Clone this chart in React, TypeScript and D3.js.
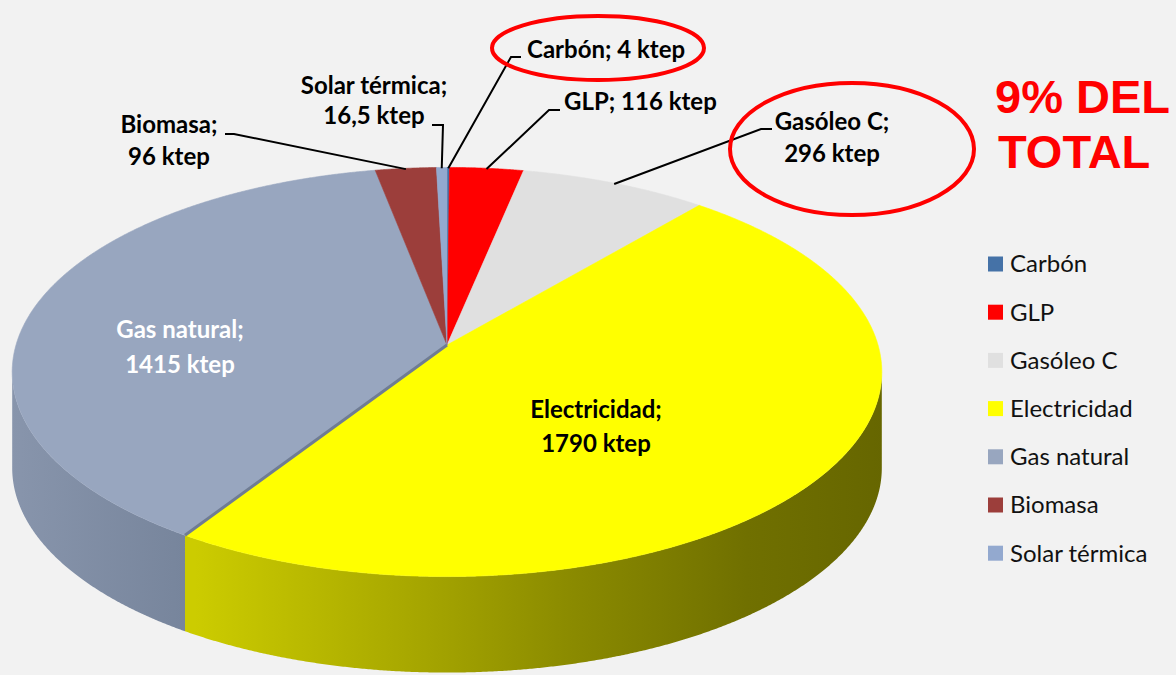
import React, { useEffect, useRef } from 'react';
import * as d3 from 'd3';

const categories = ['Carbón', 'GLP', 'Gasóleo C', 'Electricidad', 'Gas natural', 'Biomasa', 'Solar térmica'];
const values = [4, 116, 296, 1790, 1415, 96, 16.5];
const valueTexts = ['4', '116', '296', '1790', '1415', '96', '16,5'];
const colors = ['#4572a7', '#ff0000', '#e0e0e0', '#ffff00', '#98a6bf', '#9c3e3b', '#93a9cf'];
const sideColors = ['#355a88', '#c00000', '#b4b4b4', 'url(#sideElec)', 'url(#sideGas)', '#7a2e2c', '#7488aa'];

interface Slice {
	name: string;
	value: number;
	text: string;
	color: string;
	side: string;
}

const data: Slice[] = categories.map((name, i) => ({
	name,
	value: values[i],
	text: valueTexts[i],
	color: colors[i],
	side: sideColors[i],
}));

const W = 1176;
const H = 675;

// proyección en perspectiva de la cara superior
const cx = 447;
const cy = 345;
const A = 431;
const B = 201;
const k = 0.132;
const depth = 96;

const proj = (a: number, r = 1): [number, number] => {
	const w = 1 + k * r * Math.cos(a);
	return [cx + (A * r * Math.sin(a)) / w, cy - (B * r * Math.cos(a)) / w];
};

const App: React.FC = () => {
	const svgRef = useRef<SVGSVGElement | null>(null);

	useEffect(() => {
		if (!svgRef.current) return;
		const svg = d3.select(svgRef.current);
		svg.selectAll('*').remove();

		svg.append('rect').attr('width', W).attr('height', H).attr('fill', '#f2f2f2');

		const defs = svg.append('defs');
		const gElec = defs
			.append('linearGradient')
			.attr('id', 'sideElec')
			.attr('gradientUnits', 'userSpaceOnUse')
			.attr('x1', 195)
			.attr('x2', 885)
			.attr('y1', 0)
			.attr('y2', 0);
		[
			[0, '#cccc00'],
			[0.3, '#a9a900'],
			[0.55, '#8a8a00'],
			[0.8, '#707000'],
			[1, '#666600'],
		].forEach(([o, c]) => gElec.append('stop').attr('offset', o).attr('stop-color', c));
		const gGas = defs
			.append('linearGradient')
			.attr('id', 'sideGas')
			.attr('gradientUnits', 'userSpaceOnUse')
			.attr('x1', 10)
			.attr('x2', 205)
			.attr('y1', 0)
			.attr('y2', 0);
		[
			[0, '#8895ac'],
			[1, '#75839a'],
		].forEach(([o, c]) => gGas.append('stop').attr('offset', o).attr('stop-color', c));

		const pie = d3
			.pie<Slice>()
			.sort(null)
			.value((d) => d.value);
		const arcs = pie(data);

		const visFrom = Math.acos(-k);
		const visTo = 2 * Math.PI - visFrom;
		const step = 0.004;

		const rimPts = (a0: number, a1: number) => {
			const n = Math.max(2, Math.ceil((a1 - a0) / step));
			return d3.range(n + 1).map((i) => proj(a0 + ((a1 - a0) * i) / n));
		};
		const line = d3.line();

		// paredes laterales visibles
		const sides = svg.append('g');
		arcs.forEach((d) => {
			const a0 = Math.max(d.startAngle, visFrom);
			const a1 = Math.min(d.endAngle, visTo);
			if (a1 <= a0) return;
			const top = rimPts(a0, a1);
			const bottom = top.map(([x, y]) => [x, y + depth] as [number, number]).reverse();
			sides
				.append('path')
				.attr('d', line([...top, ...bottom]) + 'Z')
				.attr('fill', d.data.side);
		});

		// caras superiores
		const tops = svg.append('g');
		arcs.forEach((d) => {
			const pts = [proj(0, 0), ...rimPts(d.startAngle, d.endAngle)];
			tops
				.append('path')
				.attr('d', line(pts) + 'Z')
				.attr('fill', d.data.color)
				.attr('stroke', d.data.color)
				.attr('stroke-width', 0.6);
		});

		// sombra entre Gas natural y Electricidad
		const gasArc = arcs[4];
		const [sx, sy] = proj(gasArc.startAngle);
		const [ax, ay] = proj(0, 0);
		svg
			.append('line')
			.attr('x1', ax)
			.attr('y1', ay)
			.attr('x2', sx)
			.attr('y2', sy)
			.attr('stroke', '#6f7c93')
			.attr('stroke-width', 3);

		const font = 'Lato, "Open Sans", sans-serif';

		// etiquetas exteriores con líneas guía
		interface Outer {
			idx: number;
			lines: string[];
			x: number;
			y: number;
			gap: number;
			anchor: string;
			path: [number, number][];
		}
		const outer: Outer[] = [
			{ idx: 0, lines: ['Carbón; 4 ktep'], x: 527, y: 58, gap: 0, anchor: 'start', path: [[521, 57], [511, 57]] },
			{ idx: 1, lines: ['GLP; 116 ktep'], x: 564, y: 110, gap: 0, anchor: 'start', path: [[560, 110], [549, 110]] },
			{ idx: 2, lines: ['Gasóleo C;', '296 ktep'], x: 832, y: 130, gap: 32, anchor: 'middle', path: [[772, 129], [761, 129]] },
			{ idx: 5, lines: ['Biomasa;', '96 ktep'], x: 169, y: 133, gap: 32, anchor: 'middle', path: [[225, 134], [234, 134]] },
			{ idx: 6, lines: ['Solar térmica;', '16,5 ktep'], x: 374, y: 94, gap: 30, anchor: 'middle', path: [[432, 125], [443, 125]] },
		];
		const labels = svg.append('g').attr('font-family', font).attr('font-weight', 700).attr('font-size', 24);
		outer.forEach((o) => {
			const d = arcs[o.idx];
			const mid = (d.startAngle + d.endAngle) / 2;
			const end = proj(mid, 0.995);
			labels
				.append('path')
				.attr('d', line([...o.path, end]))
				.attr('fill', 'none')
				.attr('stroke', '#000')
				.attr('stroke-width', 2);
			o.lines.forEach((t, i) => {
				labels
					.append('text')
					.attr('x', o.x)
					.attr('y', o.y + i * o.gap)
					.attr('text-anchor', o.anchor)
					.attr('fill', '#000')
					.text(t);
			});
		});

		// etiquetas interiores
		const inner = [
			{ idx: 4, x: 180, y: 338, gap: 35, fill: '#ffffff' },
			{ idx: 3, x: 596, y: 418, gap: 34, fill: '#000000' },
		];
		inner.forEach((o) => {
			const d = arcs[o.idx].data;
			[`${d.name};`, `${d.text} ktep`].forEach((t, i) => {
				labels
					.append('text')
					.attr('x', o.x)
					.attr('y', o.y + i * o.gap)
					.attr('text-anchor', 'middle')
					.attr('fill', o.fill)
					.text(t);
			});
		});

		// elipses rojas
		svg
			.append('g')
			.attr('fill', 'none')
			.attr('stroke', '#ff0000')
			.attr('stroke-width', 4)
			.call((g) => {
				g.append('ellipse').attr('cx', 598).attr('cy', 48).attr('rx', 106).attr('ry', 32);
				g.append('ellipse').attr('cx', 852).attr('cy', 149).attr('rx', 122).attr('ry', 66);
			});

		svg
			.append('g')
			.attr('font-family', '"Liberation Sans", Arial, sans-serif')
			.attr('font-weight', 700)
			.attr('font-size', 47)
			.attr('fill', '#ff0000')
			.call((g) => {
				g.append('text').attr('x', 995).attr('y', 113).text('9% DEL');
				g.append('text').attr('x', 998).attr('y', 168).text('TOTAL');
			});

		// leyenda
		const legend = svg
			.append('g')
			.attr('font-family', font)
			.attr('font-size', 24)
			.selectAll('g')
			.data(data)
			.join('g')
			.attr('transform', (_, i) => `translate(988, ${264 + i * 48.2})`);
		legend.append('rect').attr('x', 0).attr('y', -7.5).attr('width', 15).attr('height', 15).attr('fill', (d) => d.color);
		legend
			.append('text')
			.attr('x', 22)
			.attr('y', 0)
			.attr('dy', '0.35em')
			.attr('fill', '#111')
			.text((d) => d.name);
	}, []);

	return <svg ref={svgRef} width={W} height={H} style={{ position: 'fixed', left: 0, top: 0, display: 'block' }} />;
};

export default App;
